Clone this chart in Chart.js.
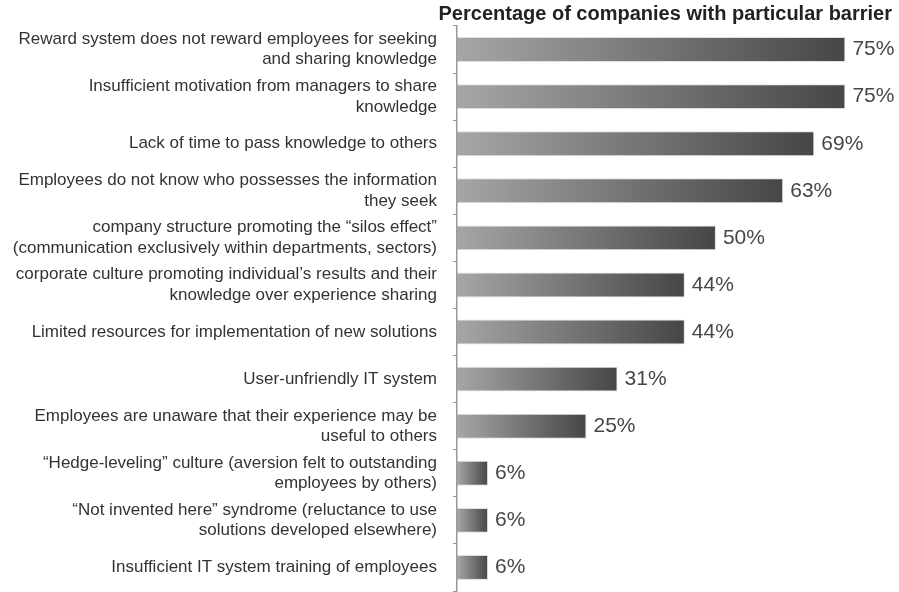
<!DOCTYPE html>
<html>
<head>
<meta charset="utf-8">
<title>Barriers to knowledge sharing</title>
<script src="https://cdn.jsdelivr.net/npm/chart.js"></script>
<style>
    body { margin: 0; background: #fff; }
    #wrap { width: 899px; height: 592px; position: relative; }
</style>
</head>
<body>
<div id="wrap"><canvas id="barrierChart"></canvas></div>
<script>
const barriers = [
    ['Reward system does not reward employees for seeking', 'and sharing knowledge'],
    ['Insufficient motivation from managers to share', 'knowledge'],
    'Lack of time to pass knowledge to others',
    ['Employees do not know who possesses the information', 'they seek'],
    ['company structure promoting the \u201csilos effect\u201d', '(communication exclusively within departments, sectors)'],
    ['corporate culture promoting individual\u2019s results and their', 'knowledge over experience sharing'],
    'Limited resources for implementation of new solutions',
    'User-unfriendly IT system',
    ['Employees are unaware that their experience may be', 'useful to others'],
    ['\u201cHedge-leveling\u201d culture (aversion felt to outstanding', 'employees by others)'],
    ['\u201cNot invented here\u201d syndrome (reluctance to use', 'solutions developed elsewhere)'],
    'Insufficient IT system training of employees'
];
const shares = [75, 75, 69, 63, 50, 44, 44, 31, 25, 6, 6, 6];
const chartTitle = 'Percentage of companies with particular barrier';

// draws "75%" etc. just past the end of every bar
const valueLabels = {
    id: 'valueLabels',
    afterDatasetsDraw(chart) {
        const ctx = chart.ctx;
        const meta = chart.getDatasetMeta(0);
        ctx.save();
        ctx.font = '21px "Liberation Sans", Arial, sans-serif';
        ctx.fillStyle = '#474747';
        ctx.textAlign = 'left';
        ctx.textBaseline = 'middle';
        meta.data.forEach((bar, i) => {
            ctx.fillText(shares[i] + '%', bar.x + 7, bar.y);
        });
        ctx.restore();
    }
};

function barGradient(context) {
    const chart = context.chart;
    if (!chart.chartArea) return '#777';
    const xScale = chart.scales.x;
    const x0 = xScale.getPixelForValue(0);
    const x1 = xScale.getPixelForValue(context.raw);
    const g = chart.ctx.createLinearGradient(x0, 0, x1, 0);
    g.addColorStop(0, '#a6a6a6');
    g.addColorStop(1, '#464646');
    return g;
}

const ctx = document.getElementById('barrierChart').getContext('2d');
new Chart(ctx, {
    type: 'bar',
    data: {
        labels: barriers,
        datasets: [{
            data: shares,
            backgroundColor: barGradient,
            borderColor: 'rgba(0, 0, 0, 0.12)',
            borderWidth: 1,
            borderSkipped: 'left',
            barPercentage: 0.53,
            categoryPercentage: 1
        }]
    },
    options: {
        indexAxis: 'y',
        responsive: true,
        maintainAspectRatio: false,
        animation: false,
        layout: { padding: { top: 0, right: 7, bottom: 1, left: 0 } },
        plugins: {
            legend: { display: false },
            tooltip: { enabled: false },
            title: {
                display: true,
                text: chartTitle,
                align: 'end',
                color: '#222',
                font: { family: '"Liberation Sans", Arial, sans-serif', size: 20, weight: 'bold' },
                padding: { top: 2, bottom: 0 }
            }
        },
        scales: {
            x: {
                display: false,
                min: 0,
                max: 84
            },
            y: {
                afterFit(scale) {
                    scale.width = 457;
                    scale.paddingTop = 0;
                    scale.paddingBottom = 0;
                },
                grid: {
                    offset: true,
                    drawOnChartArea: false,
                    drawTicks: true,
                    tickLength: 4,
                    color: '#9a9a9a'
                },
                border: { display: true, color: '#9a9a9a', width: 1.5 },
                ticks: {
                    color: '#333',
                    padding: 16,
                    autoSkip: false,
                    font: { family: '"Liberation Sans", Arial, sans-serif', size: 17, lineHeight: 1.2 }
                }
            }
        }
    },
    plugins: [valueLabels]
});
</script>
</body>
</html>
